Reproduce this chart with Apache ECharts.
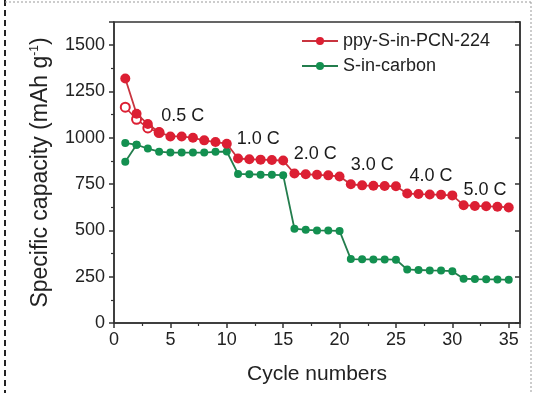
<!DOCTYPE html>
<html>
<head>
<meta charset="utf-8">
<script src="https://cdn.jsdelivr.net/npm/echarts@6/dist/echarts.min.js"></script>
<style>
html,body{margin:0;padding:0;background:#fff;}
#chart{width:536px;height:393px;}
</style>
</head>
<body>
<div id="chart"></div>
<script>
// ---- data ----
const cycles = [1,2,3,4,5,6,7,8,9,10,11,12,13,14,15,16,17,18,19,20,21,22,23,24,25,26,27,28,29,30,31,32,33,34,35];
const ppyDischarge = [1320,1130,1074,1030,1007,1007,1000,986,977,968, 888,884,882,880,877, 807,803,800,797,791, 749,743,741,740,738, 699,696,694,692,689, 636,632,630,628,624];
const ppyChargeCycles = [1,2,3,4];
const ppyCharge = [1165,1100,1053,1028];
const carbonDischarge = [870,962,942,925,920,920,920,920,924,926, 805,803,801,800,798, 509,503,500,499,497, 345,344,343,343,342, 289,286,284,283,280, 239,237,236,235,233];
const carbonChargeCycles = [1,2];
const carbonCharge = [972,962];
const seriesNames = ['ppy-S-in-PCN-224','S-in-carbon'];
const rateLabels = ['0.5 C','1.0 C','2.0 C','3.0 C','4.0 C','5.0 C'];
const xTicks = [0,5,10,15,20,25,30,35];
const yTicks = [0,250,500,750,1000,1250,1500];

// ---- layout (annotation anchor points in data space) ----
const rateAnchors = [[6.1,1115],[12.8,994],[17.85,914],[22.9,851],[28.1,793],[32.9,719]];

const RED = '#dc1f33', RED_LINE = '#c8343f';
const GREEN = '#139050', GREEN_LINE = '#237d4d';
const AX = '#333';
const FONT = 'Liberation Sans, Arial, sans-serif';

const pair = (xs, ys) => xs.map((x,i)=>[x, ys[i]]);

const chart = echarts.init(document.getElementById('chart'), null, {renderer:'canvas'});
chart.setOption({
  animation:false,
  backgroundColor:'#fff',
  textStyle:{fontFamily:FONT},
  grid:{left:114,right:16,top:22,bottom:70,show:true,borderColor:AX,borderWidth:1.5,backgroundColor:'transparent'},
  legend:{
    data:seriesNames,
    orient:'vertical', left:296, top:27, itemGap:7,
    itemWidth:36, itemHeight:10,
    textStyle:{fontSize:18,color:'#222',fontFamily:FONT}
  },
  xAxis:[{
    type:'value', min:0, max:36, interval:5,
    name:'Cycle numbers', nameLocation:'middle', nameGap:41,
    nameTextStyle:{fontSize:21,color:'#222',fontFamily:FONT},
    axisLine:{lineStyle:{color:AX,width:1.5}},
    axisTick:{show:true,inside:false,length:5,lineStyle:{color:AX,width:1.5}},
    minorTick:{show:true,splitNumber:2,length:3,lineStyle:{color:AX,width:1.2}},
    splitLine:{show:false},
    axisLabel:{fontSize:18,color:'#222',margin:8,showMaxLabel:false,
      formatter:v=> xTicks.indexOf(v)>=0 ? String(v) : ''}
  }],
  yAxis:[{
    type:'value', min:0, max:1625, interval:250,
    name:'{a|Specific capacity (mAh g}{s|-1}{a|)}',
    nameLocation:'middle', nameRotate:90, nameGap:62,
    nameTextStyle:{color:'#222',fontFamily:FONT,
      rich:{a:{fontSize:23,color:'#222',fontFamily:FONT},s:{fontSize:12,color:'#222',verticalAlign:'top',fontFamily:FONT}}},
    axisLine:{lineStyle:{color:AX,width:1.5}},
    axisTick:{show:true,inside:false,length:5,lineStyle:{color:AX,width:1.5}},
    minorTick:{show:true,splitNumber:2,length:3,lineStyle:{color:AX,width:1.2}},
    splitLine:{show:false},
    axisLabel:{fontSize:18,color:'#222',margin:9,showMaxLabel:false,
      formatter:v=> yTicks.indexOf(v)>=0 ? String(v) : ''}
  },{
    type:'value', min:0, max:1625, interval:250, position:'right',
    axisLine:{show:true,lineStyle:{color:AX,width:1.5}},
    axisTick:{show:true,inside:true,length:5,lineStyle:{color:AX,width:1.5}},
    minorTick:{show:false},
    splitLine:{show:false},
    axisLabel:{show:false}
  }],
  series:[
    {
      name:seriesNames[1], type:'line', data:pair(cycles,carbonDischarge),
      symbol:'circle', symbolSize:8, z:2,
      itemStyle:{color:GREEN}, lineStyle:{color:GREEN_LINE,width:1.8}
    },
    {
      name:'carbon-charge', type:'line', data:pair(carbonChargeCycles,carbonCharge),
      symbol:'circle', symbolSize:8, z:2,
      itemStyle:{color:GREEN}, lineStyle:{color:GREEN_LINE,width:1.8}
    },
    {
      name:'ppy-charge', type:'line', data:pair(ppyChargeCycles,ppyCharge),
      symbol:'emptyCircle', symbolSize:9, z:3,
      itemStyle:{color:RED,borderColor:RED,borderWidth:1.5}, lineStyle:{color:RED_LINE,width:1.6}
    },
    {
      name:seriesNames[0], type:'line', data:pair(cycles,ppyDischarge),
      symbol:'circle', symbolSize:10, z:4,
      itemStyle:{color:RED}, lineStyle:{color:RED_LINE,width:1.8}
    },
    {
      name:'rates', type:'scatter', symbolSize:1, z:5, silent:true,
      itemStyle:{opacity:0},
      data:rateLabels.map((t,i)=>({name:t,value:rateAnchors[i]})),
      label:{show:true,position:'inside',opacity:1,formatter:p=>p.name,fontSize:18,color:'#1a1a1a',fontFamily:FONT}
    }
  ],
  graphic:[
    {type:'line',shape:{x1:5,y1:0,x2:5,y2:393},style:{stroke:'#222',lineWidth:2,lineDash:[6,4]}},
    {type:'line',shape:{x1:5,y1:2,x2:531,y2:2},style:{stroke:'#999',lineWidth:1,lineDash:[2,2]}},
    {type:'line',shape:{x1:531,y1:2,x2:531,y2:393},style:{stroke:'#999',lineWidth:1,lineDash:[2,2]}}
  ]
});
</script>
</body>
</html>
